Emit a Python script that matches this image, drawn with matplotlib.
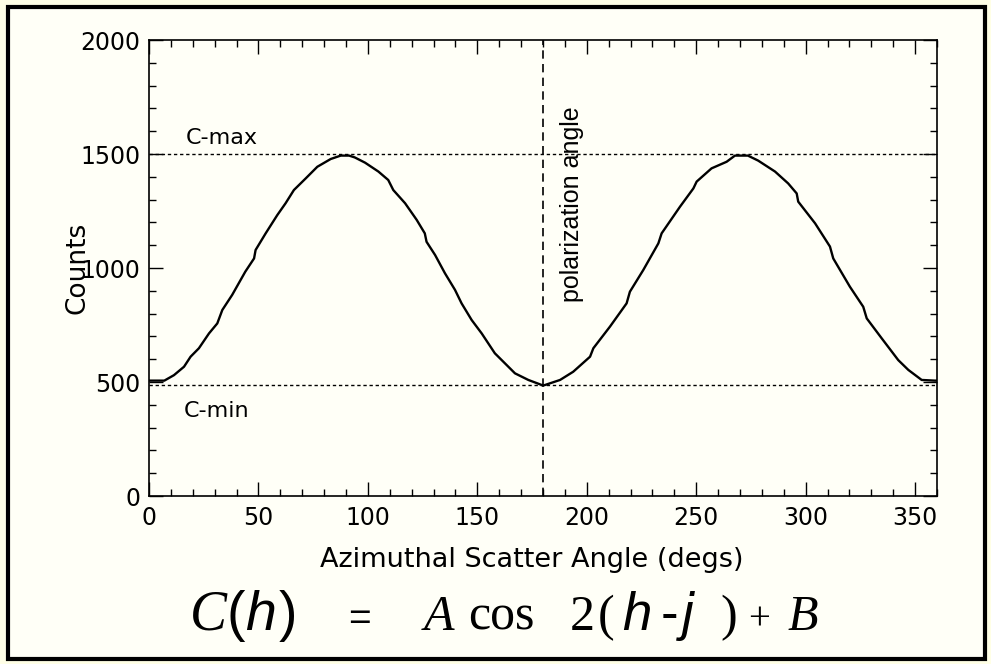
import matplotlib
matplotlib.use("Agg")
import matplotlib.pyplot as plt
from matplotlib.patches import Rectangle
from matplotlib.ticker import MultipleLocator

# ---- data ----
angles = [0, 7, 11.4, 16, 19, 22.8, 27.4, 31.2, 33.5, 38, 44, 48, 48.7, 53.3, 58.6,
          62.4, 66.2, 71.6, 76.9, 83, 87.6, 91.4, 94, 98.7, 104.8, 109.3, 111.6, 117,
          122.3, 126, 126.8, 130.7, 135.2, 139.8, 142.8, 147.4, 152, 158, 162.6, 167.2,
          173.3, 179.4, 180, 187.8, 193.8, 201.5, 203, 210.6, 218.2, 219.7, 225.8,
          232.7, 234.2, 242.6, 248.7, 250.2, 257, 263.9, 267.7, 273.6, 278.3, 286, 292,
          295.9, 296.6, 304.3, 311.1, 312.6, 320.2, 326.3, 327.9, 334.7, 342.3, 346.9,
          353, 359, 360]
counts = [506, 506, 530, 567, 611, 648, 713, 757, 816, 882, 984, 1042, 1079, 1152, 1232,
          1284, 1342, 1393, 1444, 1478, 1493, 1493, 1485, 1462, 1423, 1386, 1342, 1284,
          1211, 1152, 1115, 1057, 977, 904, 845, 772, 713, 626, 582, 538,
          509, 487, 484, 509, 545, 611, 648, 743, 845, 896, 991,
          1108, 1152, 1269, 1349, 1379, 1437, 1466, 1493, 1493, 1471, 1423, 1371,
          1327, 1291, 1196, 1094, 1042, 918, 830, 779, 692, 596, 553,
          509, 506, 506]
c_max = 1500
c_min = 487
polarization_angle = 180
x_ticks = [0, 50, 100, 150, 200, 250, 300, 350]
y_ticks = [0, 500, 1000, 1500, 2000]

W, H = 991, 664
fig = plt.figure(figsize=(W / 100, H / 100), dpi=100)
fig.patch.set_facecolor("#FFFFE6")

# inner panel with thick black border
fig.patches.append(Rectangle((8 / W, 1 - 659 / H), (985 - 8) / W, (659 - 7) / H,
                             transform=fig.transFigure, facecolor="#FFFFF7",
                             edgecolor="black", linewidth=3.0, zorder=-10))

ax = fig.add_axes([149 / W, 1 - 496 / H, (937 - 149) / W, (496 - 40) / H])
ax.set_zorder(1)
ax.set_facecolor("#FFFFF7")

ax.plot(angles, counts, color="black", lw=1.7, zorder=3)
ax.axhline(c_max, color="black", lw=1.0, linestyle=(0, (2.4, 2.0)), zorder=2)
ax.axhline(c_min, color="black", lw=1.0, linestyle=(0, (2.4, 2.0)), zorder=2)
ax.axvline(polarization_angle, color="black", lw=1.2, linestyle=(0, (5.0, 3.2)), zorder=2)

ax.set_xlim(0, 360)
ax.set_ylim(0, 2000)
ax.set_xticks(x_ticks)
ax.set_yticks(y_ticks)
ax.xaxis.set_minor_locator(MultipleLocator(10))
ax.yaxis.set_minor_locator(MultipleLocator(100))
ax.tick_params(which="both", direction="in", top=True, right=True, width=1.0,
               labelsize=17, color="black")
ax.tick_params(which="major", length=10)
ax.tick_params(which="minor", length=5)
ax.tick_params(axis="y", pad=6)
ax.tick_params(axis="x", pad=7)
for sp in ax.spines.values():
    sp.set_linewidth(1.2)

ax.set_xlabel("Azimuthal Scatter Angle (degs)", fontsize=19.5)
ax.xaxis.set_label_coords((531.5 - 149) / 788, -(547 - 496) / 456)
ax.set_ylabel("Counts", fontsize=19)
ax.yaxis.set_label_coords((91 - 149) / 788, 0.5)

def ftxt(xpx, ypx, s, **kw):
    fig.text(xpx / W, 1 - ypx / H, s, **kw)

ftxt(186, 144, "C-max", fontsize=16, va="baseline", ha="left")
ftxt(184, 417, "C-min", fontsize=16, va="baseline", ha="left")
ftxt(572, 204, "polarization angle", fontsize=18, rotation=90, ha="center", va="center",
     family="Liberation Sans")

# formula  C(h) = A cos 2(h-j) + B
serif = "Liberation Serif"
sans = "Liberation Sans"
base = 630
pieces = [
    (190, "C", dict(family=serif, style="italic", fontsize=40)),
    (226, "(", dict(family=sans, fontsize=40, fontweight="light")),
    (245, "h", dict(family=sans, style="italic", fontsize=40)),
    (279, ")", dict(family=sans, fontsize=40, fontweight="light")),
    (348, "=", dict(family=sans, fontsize=28)),
    (424, "A", dict(family=serif, style="italic", fontsize=36)),
    (468, "cos", dict(family=serif, fontsize=36)),
    (570, "2", dict(family=serif, fontsize=36)),
    (598, "(", dict(family=serif, fontsize=36)),
    (622, "h", dict(family=sans, style="italic", fontsize=38)),
    (661, "-", dict(family=sans, fontsize=38)),
    (682, "j", dict(family=sans, style="italic", fontsize=38)),
    (720, ")", dict(family=serif, fontsize=36)),
    (748, "+", dict(family=serif, fontsize=28)),
    (788, "B", dict(family=serif, style="italic", fontsize=36)),
]
for xpx, s, kw in pieces:
    ftxt(xpx, base, s, ha="left", va="baseline", **kw)

fig.savefig("out.png", dpi=100, facecolor=fig.get_facecolor())
